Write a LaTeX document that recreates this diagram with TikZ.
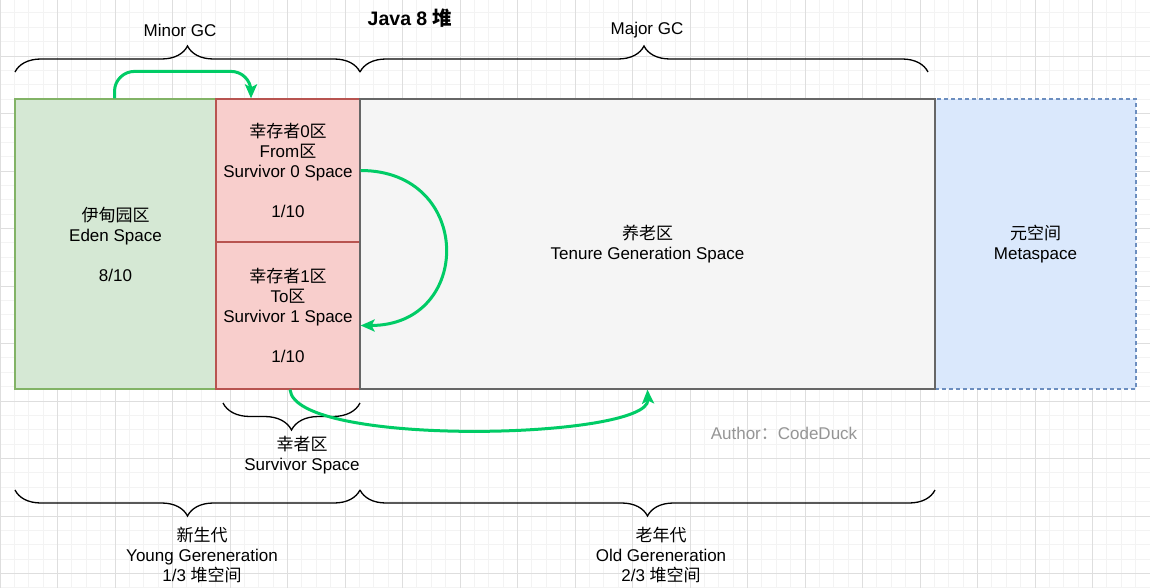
\documentclass[tikz,border=0pt]{standalone}
\usepackage{fontspec}
\setmainfont{Liberation Sans}
\newfontfamily\cjkfont{Noto Sans CJK SC}
\usetikzlibrary{decorations.pathreplacing,arrows.meta}

\newcommand\zh[1]{{\cjkfont #1}}

\definecolor{edenfill}{HTML}{D5E8D4}
\definecolor{edenline}{HTML}{82B366}
\definecolor{survfill}{HTML}{F8CECC}
\definecolor{survline}{HTML}{B85450}
\definecolor{oldfill}{HTML}{F5F5F5}
\definecolor{oldline}{HTML}{666666}
\definecolor{metafill}{HTML}{DAE8FC}
\definecolor{metaline}{HTML}{6C8EBF}
\definecolor{gcgreen}{HTML}{00CC66}
\definecolor{authorgray}{HTML}{959595}
\definecolor{minorgrid}{HTML}{F3F3F3}
\definecolor{majorgrid}{HTML}{DEDEDE}

\tikzset{
  area/.style={draw, line width=1.2pt, rectangle, inner sep=0pt, align=center,
               font=\fontsize{17}{20}\selectfont},
  lbl/.style={align=center, font=\fontsize{17}{20}\selectfont},
  curly/.style={decorate, decoration={brace, amplitude=#1}, line width=1.3pt},
  curly/.default=26pt,
  flow/.style={draw=gcgreen, line width=3pt,
               -{Stealth[length=14pt,width=12pt,inset=3pt]}},
}

\begin{document}
\begin{tikzpicture}[x=1pt,y=-1pt]
        \useasboundingbox (0,0) rectangle (1150,588);
        \fill[white] (0,0) rectangle (1150,588);

        % background grid
        \foreach \x in {0,14.375,...,1150}
            \draw[minorgrid, line width=0.8pt] (\x,0) -- (\x,588);
        \foreach \y in {12.875,27.25,...,588}
            \draw[minorgrid, line width=0.8pt] (0,\y) -- (1150,\y);
        \foreach \x in {0,57.5,...,1150}
            \draw[majorgrid, line width=0.9pt] (\x,0) -- (\x,588);
        \foreach \y in {56,113.5,...,588}
            \draw[majorgrid, line width=0.9pt] (0,\y) -- (1150,\y);

        % heap areas
        \node[area, fill=edenfill, draw=edenline, minimum width=201pt, minimum height=290pt]
            at (115.5,244) (eden) {\zh{伊甸园区}\\Eden Space\\[20pt]8/10};
        \node[area, fill=survfill, draw=survline, minimum width=144pt, minimum height=143pt]
            at (288,170.5) (s0) {\zh{幸存者}0\zh{区}\\From\zh{区}\\Survivor 0 Space\\[20pt]1/10};
        \node[area, fill=survfill, draw=survline, minimum width=144pt, minimum height=147pt]
            at (288,315.5) (s1) {\zh{幸存者}1\zh{区}\\To\zh{区}\\Survivor 1 Space\\[20pt]1/10};
        \node[area, fill=metafill, draw=metaline, dash pattern=on 4pt off 3pt,
              minimum width=201pt, minimum height=290pt]
            at (1035.5,244) (meta) {\zh{元空间}\\Metaspace};
        \node[area, fill=oldfill, draw=oldline, minimum width=575pt, minimum height=290pt]
            at (647.5,244) (old) {\zh{养老区}\\Tenure Generation Space};

        % braces
        \draw[curly] (15,72) -- (360,72);
        \draw[curly] (360,72) -- (928,72);
        \draw[curly=27pt] (360,403) -- (223,403);
        \draw[curly] (360,490) -- (15,490);
        \draw[curly] (935,490) -- (360,490);

        % labels
        \node[lbl, font=\bfseries\fontsize{19.5}{22}\selectfont] at (410,18) (title) {Java 8 \zh{堆}};
        \node[lbl] at (180,30) (minor) {Minor GC};
        \node[lbl] at (647,30) (major) {Major GC};
        \node[lbl] at (302,455) (surv) {\zh{幸者区}\\Survivor Space};
        \node[lbl] at (202,555) (young) {\zh{新生代}\\Young Gereneration\\1/3 \zh{堆空间}};
        \node[lbl] at (661,555) (oldgen) {\zh{老年代}\\Old Gereneration\\2/3 \zh{堆空间}};
        \node[lbl, text=authorgray] at (784,433) (author) {Author\zh{：}CodeDuck};

        % gc moves
        \draw[flow, rounded corners=20pt] ([xshift=-1pt]eden.north) |- ([xshift=-37pt,yshift=27pt]s0.north)
            -- ([xshift=-37pt]s0.north);
        \draw[flow] (s0.east) .. controls +(113,0) and +(113,0) .. ([yshift=-10pt]s1.east);
        \draw[flow] ([xshift=2pt]s1.south) .. controls +(5,58) and +(2,50) .. (old.south);
\end{tikzpicture}
\end{document}
